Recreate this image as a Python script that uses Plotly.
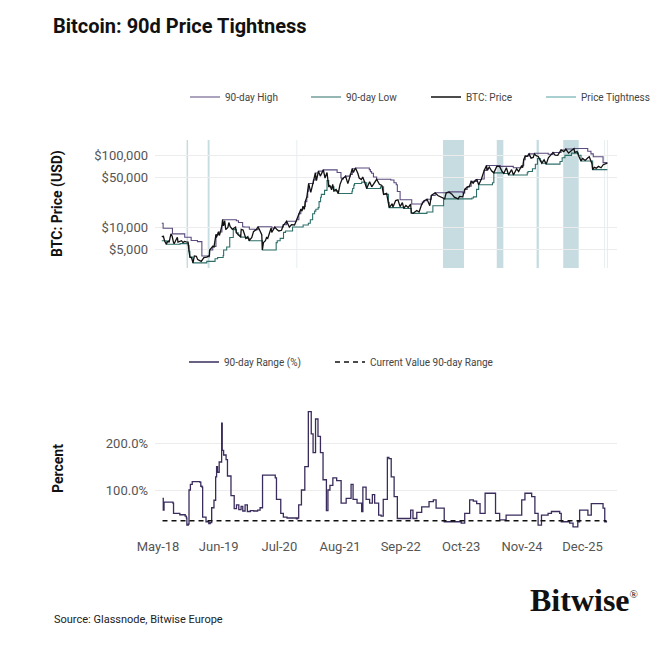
import plotly.graph_objects as go

# ---------------- data ----------------
PRICE_DATES = ["2018-05-25","2018-06-05","2018-06-12","2018-06-24","2018-07-05","2018-07-12","2018-07-24","2018-08-01",
"2018-08-10","2018-08-14","2018-08-25","2018-09-04","2018-09-08","2018-09-20","2018-10-01","2018-10-11","2018-10-20",
"2018-11-01","2018-11-13","2018-11-19","2018-11-25","2018-12-05","2018-12-15","2018-12-24","2019-01-06","2019-01-15",
"2019-02-07","2019-02-24","2019-03-15","2019-04-01","2019-04-03","2019-04-23","2019-05-01","2019-05-14","2019-05-17",
"2019-05-30","2019-06-06","2019-06-22","2019-06-26","2019-07-02","2019-07-10","2019-07-17","2019-07-31","2019-08-06",
"2019-08-15","2019-08-29","2019-09-19","2019-09-24","2019-10-06","2019-10-22","2019-10-26","2019-11-07","2019-11-25",
"2019-12-08","2019-12-17","2020-01-03","2020-01-14","2020-02-01","2020-02-13","2020-02-26","2020-03-08","2020-03-12",
"2020-03-19","2020-04-01","2020-04-08","2020-04-16","2020-04-29","2020-05-08","2020-05-12","2020-06-01","2020-06-15",
"2020-06-27","2020-07-15","2020-07-27","2020-08-02","2020-08-17","2020-09-04","2020-09-18","2020-10-08","2020-10-21",
"2020-11-05","2020-11-18","2020-11-26","2020-12-01","2020-12-11","2020-12-17","2020-12-27","2021-01-02","2021-01-08",
"2021-01-22","2021-02-08","2021-02-21","2021-02-28","2021-03-13","2021-03-25","2021-04-14","2021-04-25","2021-05-08",
"2021-05-19","2021-05-26","2021-06-07","2021-06-14","2021-06-22","2021-07-06","2021-07-20","2021-08-01","2021-08-14",
"2021-09-06","2021-09-21","2021-10-01","2021-10-20","2021-10-27","2021-11-10","2021-11-25","2021-12-04","2021-12-18",
"2021-12-27","2022-01-10","2022-01-22","2022-02-10","2022-02-24","2022-03-28","2022-04-15","2022-05-01","2022-05-12",
"2022-06-01","2022-06-13","2022-06-18","2022-07-08","2022-07-12","2022-07-30","2022-08-14","2022-08-28","2022-09-12",
"2022-09-21","2022-10-05","2022-10-20","2022-11-05","2022-11-09","2022-11-21","2022-12-15","2022-12-30","2023-01-15",
"2023-02-01","2023-02-20","2023-03-10","2023-03-20","2023-04-14","2023-05-01","2023-05-15","2023-06-15","2023-06-25",
"2023-07-13","2023-08-01","2023-08-17","2023-09-11","2023-09-20","2023-10-11","2023-10-24","2023-11-09","2023-11-24",
"2023-12-05","2023-12-18","2024-01-02","2024-01-11","2024-01-23","2024-02-10","2024-02-28","2024-03-14","2024-03-20",
"2024-04-01","2024-04-17","2024-05-01","2024-05-20","2024-06-07","2024-06-24","2024-07-05","2024-07-22","2024-08-05",
"2024-08-25","2024-09-06","2024-09-27","2024-10-10","2024-10-29","2024-11-05","2024-11-12","2024-11-22","2024-12-05",
"2024-12-17","2024-12-30","2025-01-13","2025-01-21","2025-02-01","2025-02-15","2025-02-28","2025-03-10","2025-03-25",
"2025-04-08","2025-04-22","2025-05-10","2025-05-22","2025-06-05","2025-06-22","2025-07-14","2025-08-01","2025-08-14",
"2025-09-01","2025-09-18","2025-10-06","2025-10-11","2025-10-27","2025-11-04","2025-11-21","2025-12-02","2025-12-18",
"2026-01-05","2026-01-14","2026-01-31","2026-02-05","2026-02-15","2026-03-01","2026-03-15","2026-04-01","2026-04-15",
"2026-05-01","2026-05-12"]
PRICE_USD = [7500,7600,6600,5900,6600,6250,8200,7600,6200,6000,6700,7350,6300,6450,6600,6200,6450,
6350,6300,4700,3900,3850,3250,4050,4000,3600,3400,3850,3900,4100,4900,5500,5400,8000,7300,
8700,7800,10700,12900,10600,12500,9400,10100,11800,10300,9500,10200,8500,7900,7400,9500,9300,7100,
7500,6600,7300,8800,9400,10300,8800,8000,4900,6200,6600,7300,7100,8800,9900,8600,10200,9400,
9000,9200,11000,11100,12300,10200,11000,10900,12900,15600,18000,17000,19700,18000,23000,26500,32000,41000,
31000,46000,57500,45000,61000,52000,63500,49000,58500,37000,39000,33500,40000,32500,34000,29800,40000,47000,
52000,41000,48000,66000,58500,67500,57000,49000,46500,50700,42000,35000,43500,37000,47000,40000,38500,29000,
30000,22500,19000,21500,19300,23800,24400,19600,22300,18500,20300,19100,21300,16000,15800,17300,16500,20800,
23700,24800,20200,28000,30500,28000,27100,25100,30500,31400,29200,26600,25100,27200,26800,34000,36700,37700,
44000,41400,45800,46600,39500,47500,62500,73000,62500,69600,61300,57800,71000,71000,60300,56700,68000,54000,
64000,54000,65800,60300,72500,68000,88000,98900,98000,106000,92500,94500,106000,100000,97500,84000,78500,87500,
76300,93500,104000,111000,101500,100900,120000,114000,123500,108500,117000,125000,111000,114000,101500,84500,91500,86000,
93500,96500,78000,64000,69000,67000,71000,68000,75000,78000,79000]

HIGH_DATES = ["2018-05-25","2018-06-03","2018-08-03","2018-10-22","2018-12-03","2019-01-13","2019-02-11","2019-03-24",
"2019-04-02","2019-04-23","2019-05-14","2019-05-30","2019-06-22","2019-06-26","2019-09-24","2019-10-08","2019-11-04",
"2019-11-13","2019-12-18","2020-01-24","2020-02-01","2020-02-13","2020-05-13","2020-06-01","2020-07-27","2020-08-17",
"2020-10-21","2020-11-05","2020-11-18","2020-12-01","2020-12-17","2020-12-27","2021-01-02","2021-01-08","2021-02-08",
"2021-02-21","2021-03-13","2021-04-14","2021-07-13","2021-08-07","2021-08-13","2021-08-23","2021-09-06","2021-10-06",
"2021-10-20","2021-11-10","2022-02-08","2022-02-15","2022-02-23","2022-03-07","2022-03-28","2022-06-28","2022-07-19",
"2022-08-03","2022-08-10","2022-08-28","2022-11-12","2023-01-20","2023-02-01","2023-02-16","2023-03-20","2023-04-14",
"2023-07-13","2023-10-11","2023-10-24","2023-11-09","2023-11-24","2023-12-05","2024-01-11","2024-02-10","2024-02-28",
"2024-03-14","2024-06-12","2024-09-05","2024-10-29","2024-11-12","2024-11-22","2024-12-17","2025-01-21","2025-04-21",
"2025-05-10","2025-05-22","2025-07-14","2025-08-14","2025-10-06","2026-01-04","2026-01-25","2026-02-09","2026-04-14",
"2026-05-12"]
HIGH_USD = [11500,9800,8200,7350,6650,6400,4050,3950,4900,5500,8000,8700,10700,12900,12500,11800,10300,
10200,9500,9300,9400,10300,9900,10200,11000,12300,12900,15600,18000,19700,23000,26500,32000,41000,46000,
57500,61000,63500,58500,49000,47500,49800,52000,55000,66000,67500,64000,60000,57000,50700,47000,46000,42000,
39500,31800,24400,21300,22700,23700,24800,28000,30500,31400,30300,34000,36700,37700,44000,46600,47500,62500,
73000,71000,68000,72500,88000,98900,106000,108000,104700,104000,111000,120000,124000,126000,115000,106000,96500,80000,
80000]

LOW_DATES = ["2018-05-25","2018-06-24","2018-09-22","2018-11-14","2018-11-19","2018-11-25","2018-12-15","2019-03-15",
"2019-05-08","2019-05-25","2019-06-30","2019-07-03","2019-07-23","2019-08-12","2019-09-04","2019-09-24","2019-10-06",
"2019-10-22","2019-11-25","2019-12-17","2020-03-12","2020-06-10","2020-06-17","2020-07-06","2020-07-28","2020-08-10",
"2020-09-25","2020-12-03","2021-01-06","2021-01-19","2021-02-03","2021-02-16","2021-02-24","2021-03-11","2021-03-17",
"2021-03-27","2021-04-01","2021-04-22","2021-05-08","2021-05-19","2021-06-22","2021-07-20","2021-10-18","2021-10-22",
"2021-10-30","2021-11-04","2021-12-20","2022-01-10","2022-01-22","2022-04-22","2022-05-12","2022-06-13","2022-06-18",
"2022-09-21","2022-11-09","2022-11-21","2023-02-19","2023-03-30","2023-06-08","2023-12-10","2023-12-20","2024-01-09",
"2024-01-23","2024-04-22","2024-05-01","2024-07-05","2024-08-05","2024-12-05","2024-12-10","2025-01-08","2025-01-27",
"2025-02-10","2025-02-28","2025-03-10","2025-04-08","2025-07-07","2025-07-21","2025-08-08","2025-09-20","2025-11-04",
"2025-11-21","2026-02-05","2026-05-12"]
LOW_USD = [6600,5900,6000,5700,4700,3900,3250,3400,3700,3850,4100,4900,5400,7300,9400,8500,7900,
7400,7100,6600,4900,6200,6600,7100,8600,9000,10200,10900,11500,12900,15600,17000,18000,19000,23000,
26500,29000,33000,45000,37000,32500,29800,32000,35000,39000,41000,43000,42000,35000,37000,29000,22500,19000,
18500,16000,15800,16500,20200,25100,25800,26800,34000,39500,42000,57800,56700,54000,58000,60300,66000,76000,
91000,84000,78500,76300,83000,93500,100900,108500,101500,84500,64000,64000]

RANGE_DATES = ["2018-05-30","2018-06-04","2018-06-09","2018-08-06","2018-08-10","2018-09-20","2018-10-25","2018-11-02",
"2018-11-05","2018-11-14","2018-11-19","2018-11-28","2018-12-10","2019-01-28","2019-02-04","2019-02-12","2019-02-16",
"2019-03-10","2019-03-28","2019-04-06","2019-04-16","2019-05-01","2019-05-12","2019-05-18","2019-05-24","2019-06-04",
"2019-06-20","2019-06-24","2019-07-03","2019-07-19","2019-07-28","2019-08-20","2019-09-10","2019-09-25","2019-10-10",
"2019-10-25","2019-11-05","2019-11-20","2019-12-05","2019-12-25","2020-01-15","2020-02-10","2020-02-26","2020-03-13",
"2020-06-04","2020-06-12","2020-07-10","2020-07-27","2020-08-20","2020-10-20","2020-10-28","2020-11-04","2020-11-22",
"2020-12-14","2021-01-06","2021-01-25","2021-02-06","2021-02-22","2021-03-10","2021-03-26","2021-04-12","2021-05-04",
"2021-05-14","2021-05-27","2021-06-15","2021-07-10","2021-08-08","2021-09-10","2021-10-12","2021-10-25","2021-11-20",
"2021-12-20","2021-12-28","2022-01-18","2022-02-10","2022-02-28","2022-03-15","2022-04-10","2022-04-26","2022-05-10",
"2022-06-06","2022-06-16","2022-07-01","2022-07-20","2022-08-10","2022-10-15","2022-11-05","2022-11-20","2022-12-15",
"2023-01-16","2023-03-05","2023-04-02","2023-04-20","2023-06-01","2023-06-12","2023-10-01","2023-10-24","2023-11-25",
"2023-12-19","2024-01-10","2024-02-01","2024-03-05","2024-04-17","2024-05-12","2024-06-08","2024-07-20","2024-10-18",
"2024-10-30","2024-11-20","2025-01-03","2025-01-24","2025-02-14","2025-03-08","2025-04-20","2025-05-12","2025-07-05",
"2025-07-15","2025-09-08","2025-09-30","2025-10-31","2025-11-12","2025-12-25","2026-01-05","2026-01-27","2026-04-14",
"2026-04-25","2026-05-06"]
RANGE_PCT = [82,57,74,72,50,47,44,40,25,27,100,112,118,117,108,106,42,
32,28,30,62,78,128,150,138,160,243,185,175,165,130,88,60,68,58,
65,55,68,54,56,55,57,62,132,126,80,50,42,40,38,40,68,100,
150,268,220,180,252,215,180,122,56,100,110,126,120,72,82,112,80,72,
54,106,80,72,90,72,46,44,80,170,167,128,86,39,39,57,39,52,
64,75,79,61,61,32,29,50,79,76,71,50,93,93,50,36,46,46,
79,93,86,50,25,46,50,54,50,32,29,21,32,57,57,46,71,61,
32,34]
CURRENT_RANGE_PCT = 34

BAND_STARTS = ["2018-11-03","2019-03-21","2020-10-22","2023-06-04","2024-05-20","2025-02-04","2025-07-28","2026-04-24","2026-05-11"]
BAND_ENDS   = ["2018-11-13","2019-04-02","2020-10-25","2023-10-19","2024-07-02","2025-02-19","2025-11-06","2026-04-27","2026-05-14"]

TICK_DATES = ["2018-05-01","2019-06-01","2020-07-01","2021-08-01","2022-09-01","2023-10-01","2024-11-01","2025-12-01"]
TICK_LABELS = ["May-18","Jun-19","Jul-20","Aug-21","Sep-22","Oct-23","Nov-24","Dec-25"]
PRICE_TICKS = [5000, 10000, 50000, 100000]
PRICE_TICK_LABELS = ["$5,000", "$10,000", "$50,000", "$100,000"]
PCT_TICKS = [100, 200]
PCT_TICK_LABELS = ["100.0%", "200.0%"]

# ---------------- styling ----------------
W = H = 671
def fx(p): return p / W
def fy(p): return 1 - p / H

C_HIGH = "#5b4a7e"
C_LOW = "#2f6f6a"
C_PRICE = "#111111"
C_TIGHT = "#a9cfd0"
C_BAND = "#c6dce0"
C_RANGE = "#3a2c5c"
GRID = "#ececec"
FONT = "Roboto"

fig = go.Figure()
fig.add_trace(go.Scatter(x=HIGH_DATES, y=HIGH_USD, name="90-day High", mode="lines", showlegend=True,
                         line=dict(color=C_HIGH, width=1.1, shape="hv"), xaxis="x", yaxis="y", legend="legend"))
fig.add_trace(go.Scatter(x=LOW_DATES, y=LOW_USD, name="90-day Low", mode="lines", showlegend=True,
                         line=dict(color=C_LOW, width=1.1, shape="hv"), xaxis="x", yaxis="y", legend="legend2"))
fig.add_trace(go.Scatter(x=PRICE_DATES, y=PRICE_USD, name="BTC: Price", mode="lines", showlegend=True,
                         line=dict(color=C_PRICE, width=1.3), xaxis="x", yaxis="y", legend="legend3"))
fig.add_trace(go.Scatter(x=[None], y=[None], name="Price Tightness", mode="lines", showlegend=True,
                         line=dict(color=C_TIGHT, width=2), xaxis="x", yaxis="y", legend="legend4"))

fig.add_trace(go.Scatter(x=RANGE_DATES, y=RANGE_PCT, name="90-day Range (%)", mode="lines", showlegend=True,
                         line=dict(color=C_RANGE, width=1.3, shape="hv"), xaxis="x2", yaxis="y2", legend="legend5"))
fig.add_trace(go.Scatter(x=[RANGE_DATES[0], RANGE_DATES[-1]], y=[CURRENT_RANGE_PCT, CURRENT_RANGE_PCT],
                         name="Current Value 90-day Range", mode="lines", showlegend=True,
                         line=dict(color="#111111", width=1.4, dash="5px,4px"), xaxis="x2", yaxis="y2", legend="legend6"))

shapes = []
for s, e in zip(BAND_STARTS, BAND_ENDS):
    shapes.append(dict(type="rect", xref="x", yref="y domain", x0=s, x1=e, y0=0, y1=1,
                       fillcolor=C_BAND, line=dict(width=0), layer="below"))

XR = ["2018-04-11", "2026-07-14"]
xdom = [fx(155), fx(617)]
tickfont = dict(family=FONT, size=13, color="#555555")

def leg(text_x, y_px):
    return dict(orientation="h", x=fx(text_x - 37), xanchor="left", y=fy(y_px), yanchor="middle",
                font=dict(family=FONT, size=10, color="#444444"), bgcolor="rgba(0,0,0,0)", visible=True)

fig.update_layout(
    width=W, height=H, margin=dict(l=0, r=0, t=0, b=0, autoexpand=False),
    paper_bgcolor="white", plot_bgcolor="white", showlegend=True,
    font=dict(family=FONT, color="#333333"),
    shapes=shapes,
    title=dict(text="<b>Bitcoin: 90d Price Tightness</b>", x=fx(53), xanchor="left", y=fy(26), yanchor="middle",
               font=dict(family=FONT, size=20, color="#111111")),
    xaxis=dict(domain=xdom, range=XR, type="date", anchor="y", showticklabels=False, showgrid=False,
               zeroline=False, showline=False, ticks=""),
    xaxis2=dict(domain=xdom, range=XR, type="date", anchor="y2", tickvals=TICK_DATES, ticktext=TICK_LABELS,
                showgrid=False, zeroline=False, showline=False, ticks="", tickfont=tickfont),
    yaxis=dict(domain=[fy(268), fy(140)], type="log", range=[3.44, 5.218], anchor="x",
               tickvals=PRICE_TICKS, ticktext=PRICE_TICK_LABELS, gridcolor=GRID, gridwidth=1,
               zeroline=False, showline=False, ticks="", tickfont=tickfont, ticklabelstandoff=6),
    yaxis2=dict(domain=[fy(536.7), fy(401.6)], range=[0, 289.3], anchor="x2",
                tickvals=PCT_TICKS, ticktext=PCT_TICK_LABELS, gridcolor=GRID, gridwidth=1,
                zeroline=False, showline=False, ticks="", tickfont=tickfont, ticklabelstandoff=6),
    legend=leg(222, 97), legend2=leg(343, 97), legend3=leg(463, 97), legend4=leg(578, 97),
    legend5=leg(221, 362), legend6=leg(367, 362),
    annotations=[
        dict(text="<b>BTC: Price (USD)</b>", x=fx(58), y=fy(204), xref="paper", yref="paper", textangle=-90,
             showarrow=False, xanchor="center", yanchor="middle", font=dict(family=FONT, size=14, color="#111111")),
        dict(text="<b>Percent</b>", x=fx(58), y=fy(469), xref="paper", yref="paper", textangle=-90,
             showarrow=False, xanchor="center", yanchor="middle", font=dict(family=FONT, size=14, color="#111111")),
        dict(text="<b>Bitwise</b><sup><span style='font-size:11px'>®</span></sup>", x=fx(640), y=fy(600),
             xref="paper", yref="paper", showarrow=False,
             xanchor="right", yanchor="middle", font=dict(family="Liberation Serif", size=32, color="#111111")),
        dict(text="Source: Glassnode, Bitwise Europe", x=fx(52), y=fy(619), xref="paper", yref="paper",
             showarrow=False, xanchor="left", yanchor="middle", font=dict(family=FONT, size=11, color="#222222")),
    ],
)

fig.write_html("out.html")
